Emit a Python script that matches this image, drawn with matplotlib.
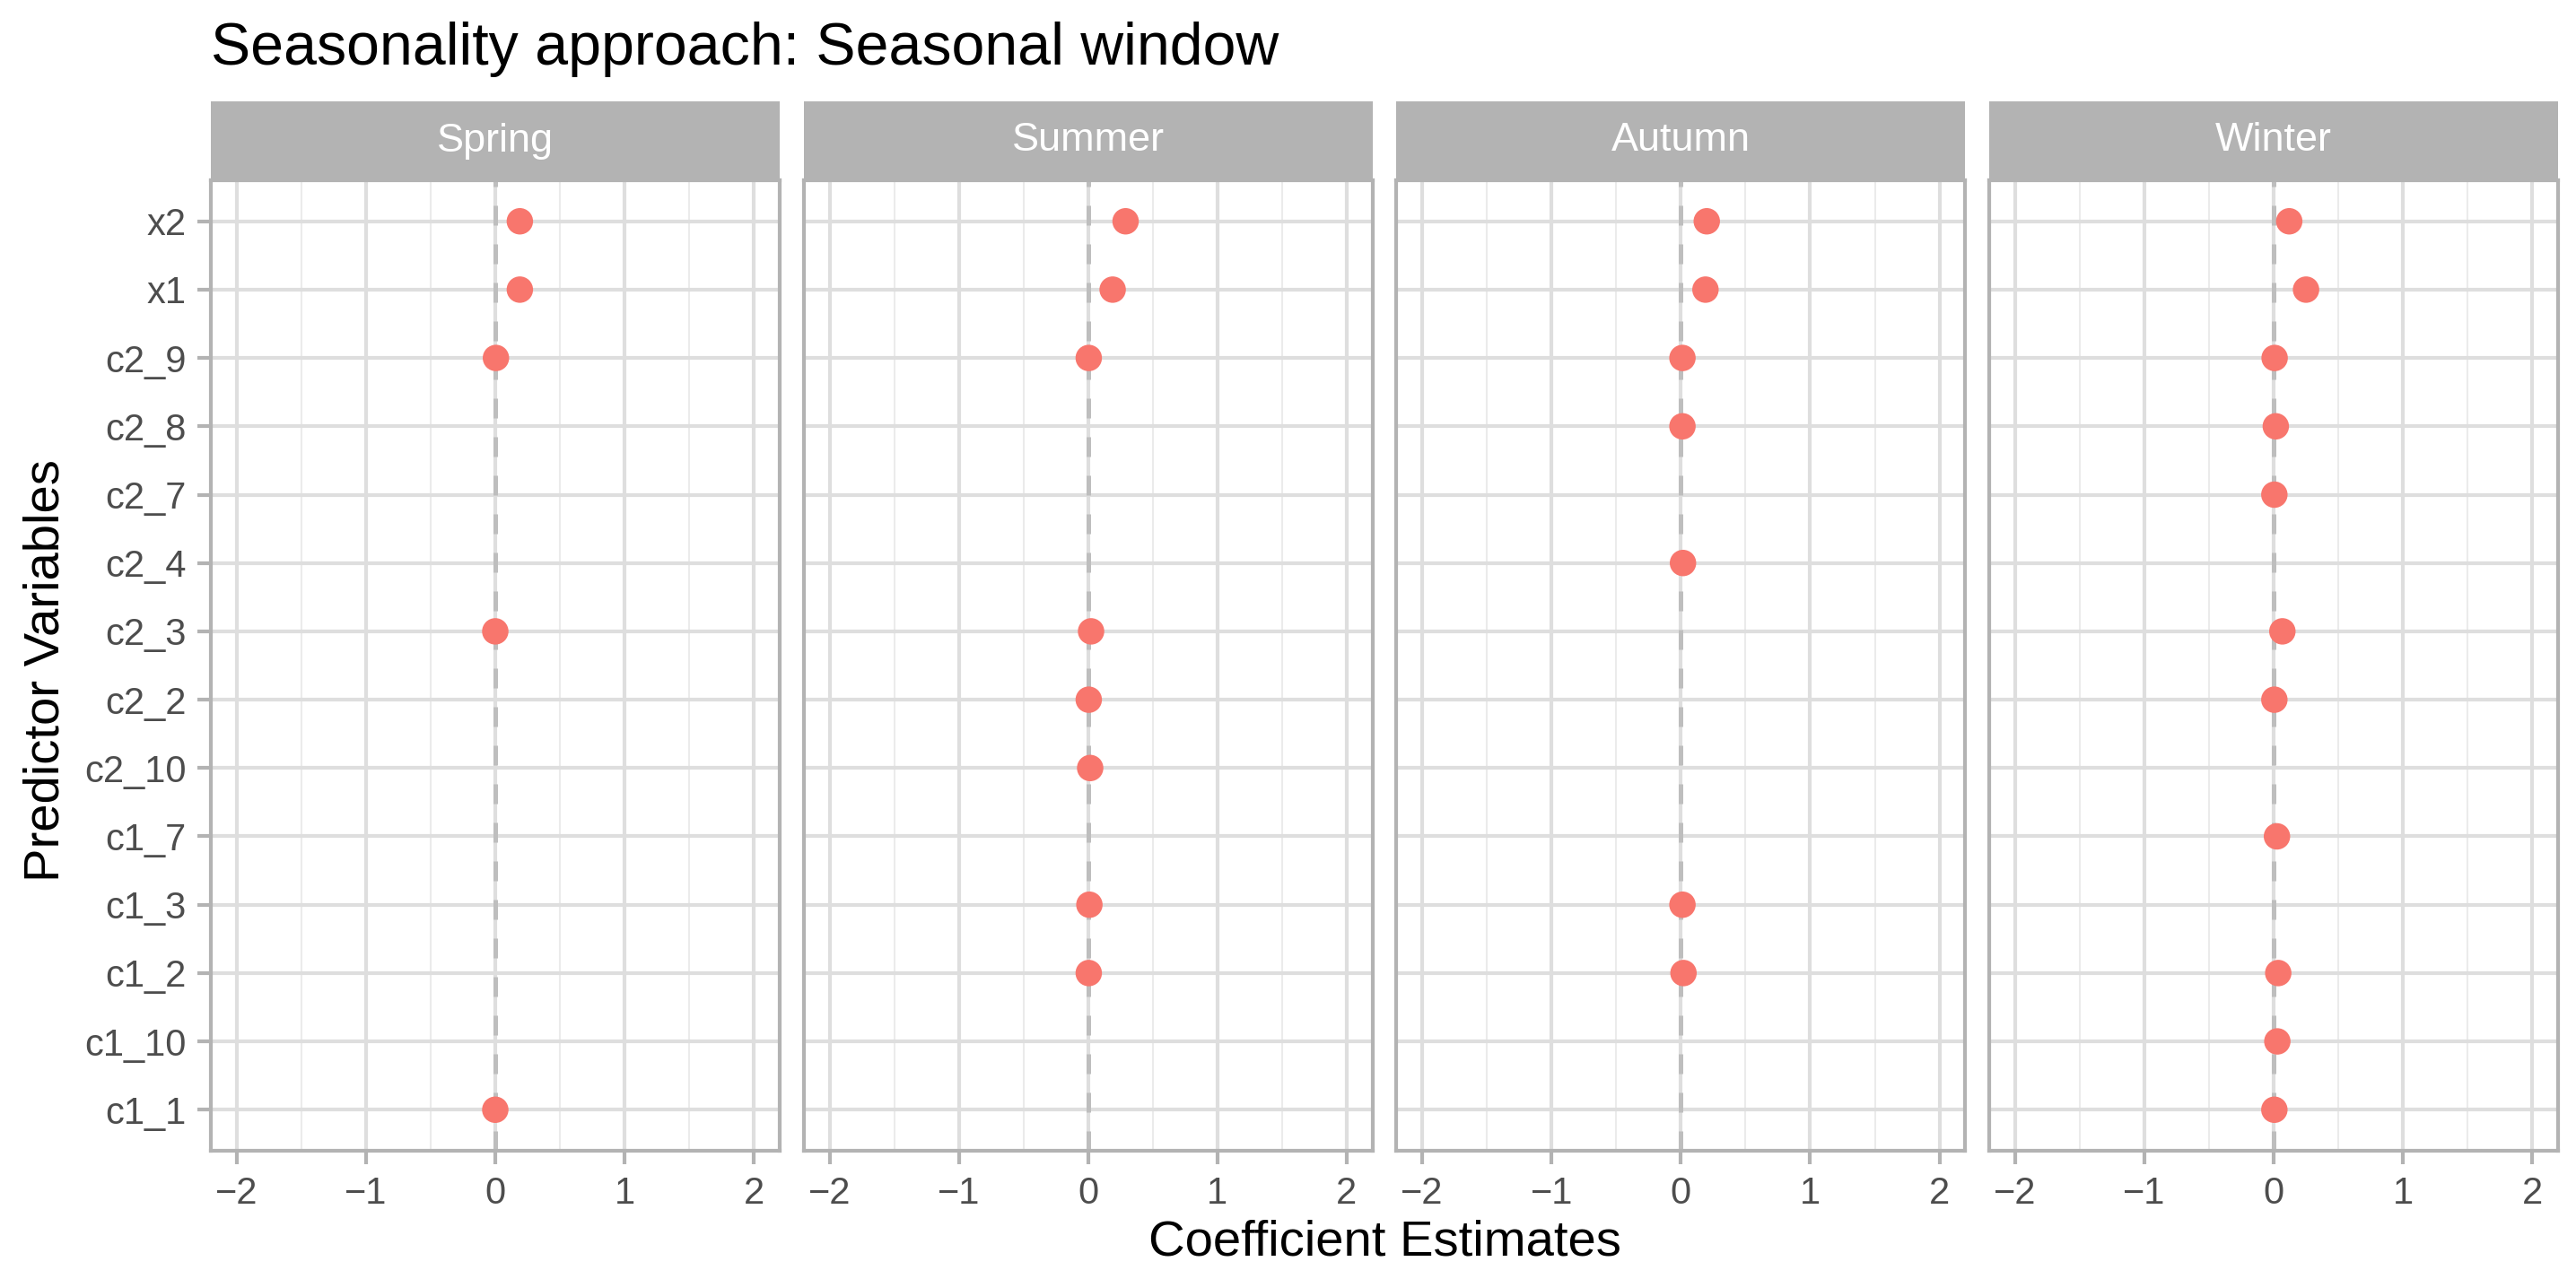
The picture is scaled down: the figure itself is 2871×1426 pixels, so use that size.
import numpy as np
import matplotlib
matplotlib.use("Agg")
import matplotlib.pyplot as plt

plt.rcParams['font.family'] = ['Liberation Sans', 'DejaVu Sans']

# predictor names, bottom to top
predictors = ["c1_1", "c1_10", "c1_2", "c1_3", "c1_7", "c2_10", "c2_2",
              "c2_3", "c2_4", "c2_7", "c2_8", "c2_9", "x1", "x2"]
seasons = ["Spring", "Summer", "Autumn", "Winter"]

# coefficient estimates (nan = not selected)
nan = np.nan
spring = [0.0, nan, nan, nan, nan, nan, nan, 0.0, nan, nan, nan, 0.005, 0.19, 0.19]
summer = [nan, nan, 0.005, 0.01, nan, 0.016, 0.005, 0.023, nan, nan, nan, 0.005, 0.19, 0.29]
autumn = [nan, nan, 0.02, 0.012, nan, nan, nan, nan, 0.016, nan, 0.012, 0.012, 0.19, 0.20]
winter = [0.005, 0.028, 0.035, nan, 0.025, nan, 0.005, 0.067, nan, 0.005, 0.016, 0.007, 0.25, 0.12]
estimates = [spring, summer, autumn, winter]

W, H = 2871, 1426
fig = plt.figure(figsize=(W / 300, H / 300), dpi=300)

grey30 = "#4D4D4D"
grey70 = "#B3B3B3"
ypos = np.arange(1, len(predictors) + 1)

panel_left0 = 235
panel_w = 634
panel_step = 660.7
strip_top, strip_bot, panel_bot = 113, 201, 1283

for i, season in enumerate(seasons):
    left = panel_left0 + i * panel_step
    ax = fig.add_axes([left / W, 1 - panel_bot / H, panel_w / W, (panel_bot - strip_bot) / H])
    ax.set_xlim(-2.2, 2.2)
    ax.set_ylim(0.4, len(predictors) + 0.6)
    ax.set_xticks([-2, -1, 0, 1, 2])
    ax.set_xticklabels(["\u22122", "\u22121", "0", "1", "2"])
    ax.set_xticks([-1.5, -0.5, 0.5, 1.5], minor=True)
    ax.set_yticks(ypos)
    if i == 0:
        ax.set_yticklabels(predictors)
    else:
        ax.set_yticklabels([])
    ax.grid(True, which="major", color="#DEDEDE", lw=1.0, zorder=0)
    ax.grid(True, which="minor", axis="x", color="#EBEBEB", lw=0.5, zorder=0)
    ax.tick_params(which="major", color=grey70, labelcolor=grey30, labelsize=10,
                   length=3.6, width=1.0, pad=3)
    ax.tick_params(which="minor", length=0)
    if i > 0:
        ax.tick_params(axis="y", length=0)
    for sp in ax.spines.values():
        sp.set_color(grey70)
        sp.set_linewidth(1.0)
    ax.set_axisbelow(True)

    ax.axvline(0, color="#BEBEBE", lw=1.2, linestyle=(0, (4.4, 4.2)), zorder=2)
    vals = np.array(estimates[i], dtype=float)
    ok = ~np.isnan(vals)
    ax.scatter(vals[ok], ypos[ok], s=50, color="#F8766D", edgecolors="none", zorder=3)

    # facet strip
    sax = fig.add_axes([left / W, 1 - strip_bot / H, panel_w / W, (strip_bot - strip_top) / H])
    sax.set_facecolor(grey70)
    sax.set_xticks([])
    sax.set_yticks([])
    for sp in sax.spines.values():
        sp.set_visible(False)
    sax.text(0.5, 0.5, season, color="white", fontsize=10.8, ha="center", va="center",
             transform=sax.transAxes)

fig.text(235 / W, 1 - 72 / H, "Seasonality approach: Seasonal window",
         fontsize=15.9, ha="left", va="baseline", color="black")
fig.text((235 + 2851) / 2 / W, 1 - 1386 / H, "Coefficient Estimates",
         fontsize=13.5, ha="center", va="center", color="black")
fig.text(51 / W, 1 - 748 / H, "Predictor Variables", fontsize=13.5,
         rotation=90, ha="center", va="center", color="black")

fig.savefig("out.png", dpi=300, facecolor="white")
